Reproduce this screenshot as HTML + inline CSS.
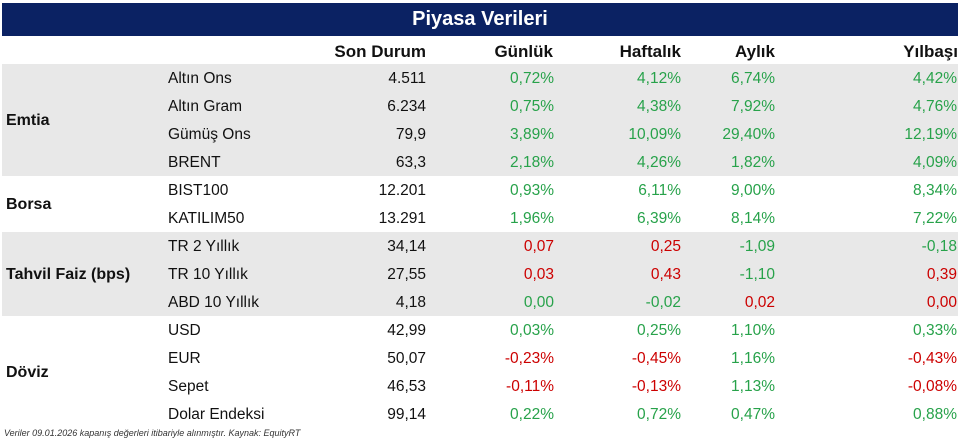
<!DOCTYPE html><html><head><style>
body{margin:0;width:960px;height:435px;background:#fff;font-family:"Liberation Sans",sans-serif;position:relative;overflow:hidden}
.t{position:absolute;left:2px;top:3px;width:956px;height:33px;background:#0b2263;color:#fff;font-weight:bold;font-size:20px;text-align:center;line-height:33px}
.g{position:absolute;left:2px;width:956px;background:#e8e8e8}
.a{position:absolute;white-space:nowrap;font-size:15.5px;color:#111;line-height:28px}
.r{text-align:right}
.h{font-weight:bold;font-size:17px}
.gr{color:#27a24a}.rd{color:#cc0000}
.b{font-weight:bold;font-size:16px}
</style></head><body>
<div class="t">Piyasa Verileri</div>
<div class="g" style="top:64px;height:112px"></div>
<div class="g" style="top:232px;height:84px"></div>
<div class="a h r" style="top:38px;right:534px">Son Durum</div>
<div class="a h r" style="top:38px;right:407px">Günlük</div>
<div class="a h r" style="top:38px;right:279px">Haftalık</div>
<div class="a h r" style="top:38px;right:185px">Aylık</div>
<div class="a h r" style="top:38px;right:2px">Yılbaşı</div>
<div class="a b" style="left:6px;top:107px">Emtia</div>
<div class="a b" style="left:6px;top:191px">Borsa</div>
<div class="a b" style="left:6px;top:261px">Tahvil Faiz (bps)</div>
<div class="a b" style="left:6px;top:359px">Döviz</div>
<div id="rows"></div>
<div class="a" style="left:4px;top:426px;font-size:9px;font-style:italic;color:#333;line-height:14px">Veriler 09.01.2026 kapanış değerleri itibariyle alınmıştır. Kaynak: EquityRT</div>
<script>
var d=[["Altın Ons","4.511","0,72%","4,12%","6,74%","4,42%"],["Altın Gram","6.234","0,75%","4,38%","7,92%","4,76%"],["Gümüş Ons","79,9","3,89%","10,09%","29,40%","12,19%"],["BRENT","63,3","2,18%","4,26%","1,82%","4,09%"],["BIST100","12.201","0,93%","6,11%","9,00%","8,34%"],["KATILIM50","13.291","1,96%","6,39%","8,14%","7,22%"],["TR 2 Yıllık","34,14","r0,07","r0,25","-1,09","-0,18"],["TR 10 Yıllık","27,55","r0,03","r0,43","-1,10","r0,39"],["ABD 10 Yıllık","4,18","0,00","-0,02","r0,02","r0,00"],["USD","42,99","0,03%","0,25%","1,10%","0,33%"],["EUR","50,07","r-0,23%","r-0,45%","1,16%","r-0,43%"],["Sepet","46,53","r-0,11%","r-0,13%","1,13%","r-0,08%"],["Dolar Endeksi","99,14","0,22%","0,72%","0,47%","0,88%"]];
var rt=[534,406,279,185,3],h="";
d.forEach(function(r,i){var y=65+i*28;h+='<div class="a" style="left:168px;top:'+y+'px">'+r[0]+'</div>';
for(var j=1;j<6;j++){var v=r[j],c=j==1?"":"gr";if(v[0]=="r"){c="rd";v=v.slice(1)}
h+='<div class="a r '+c+'" style="top:'+y+'px;right:'+rt[j-1]+'px">'+v+'</div>';}});
document.getElementById("rows").innerHTML=h;
</script>
</body></html>
